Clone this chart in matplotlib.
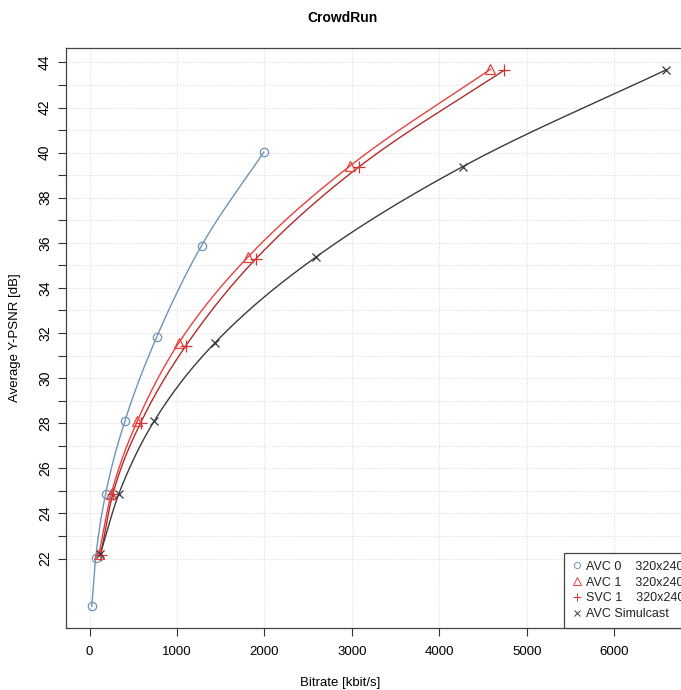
import numpy as np
import matplotlib.pyplot as plt

plt.rcParams['font.family'] = ['Liberation Sans', 'DejaVu Sans']

# values (bitrate kbit/s, Y-PSNR dB)
avc0_rate = [25, 69, 183, 404, 767, 1281, 1991]
avc0_psnr = [19.88, 22.02, 24.86, 28.10, 31.82, 35.88, 40.02]

avc1_rate = [107, 248, 546, 1018, 1808, 2975, 4585]
avc1_psnr = [22.20, 24.88, 28.10, 31.55, 35.36, 39.40, 43.70]

svc1_rate = [126, 267, 584, 1098, 1899, 3078, 4740]
svc1_psnr = [22.15, 24.88, 28.02, 31.42, 35.28, 39.36, 43.65]

sim_rate = [122, 335, 736, 1430, 2586, 4268, 6598]
sim_psnr = [22.20, 24.88, 28.08, 31.55, 35.36, 39.38, 43.68]

labels = ['AVC 0    320x240', 'AVC 1    320x240', 'SVC 1    320x240', 'AVC Simulcast']


def pchip(x, y, n=300):
    # monotone cubic curve through the points, just for drawing
    x = np.asarray(x, float)
    y = np.asarray(y, float)
    h = np.diff(x)
    d = np.diff(y) / h
    m = np.zeros_like(y)
    for k in range(1, len(x) - 1):
        if d[k - 1] * d[k] > 0:
            w1 = 2 * h[k] + h[k - 1]
            w2 = h[k] + 2 * h[k - 1]
            m[k] = (w1 + w2) / (w1 / d[k - 1] + w2 / d[k])
    m[0] = d[0]
    m[-1] = d[-1]
    xs = np.linspace(x[0], x[-1], n)
    idx = np.clip(np.searchsorted(x, xs) - 1, 0, len(x) - 2)
    t = (xs - x[idx]) / h[idx]
    h00 = 2 * t**3 - 3 * t**2 + 1
    h10 = t**3 - 2 * t**2 + t
    h01 = -2 * t**3 + 3 * t**2
    h11 = t**3 - t**2
    ys = h00 * y[idx] + h10 * h[idx] * m[idx] + h01 * y[idx + 1] + h11 * h[idx] * m[idx + 1]
    return xs, ys


fig = plt.figure(figsize=(6.81, 6.90), dpi=100)
ax = fig.add_axes([66 / 681, 1 - 628 / 690, (692 - 66) / 681, (628 - 48) / 690])

# grid
for gx in range(0, 7000, 1000):
    ax.axvline(gx, color='#dddddd', lw=0.8, ls=(0, (1, 1.5)), zorder=0)
for gy in range(22, 45):
    ax.axhline(gy, color='#dddddd', lw=0.8, ls=(0, (1, 1.5)), zorder=0)

series = [
    (avc0_rate, avc0_psnr, '#6f93b8', '#6f93b8', 'o', 6, 'none'),
    (avc1_rate, avc1_psnr, '#e8413c', '#e8413c', '^', 7, 'none'),
    (svc1_rate, svc1_psnr, '#b02a2a', '#d93030', '+', 8, None),
    (sim_rate, sim_psnr, '#3a3a3a', '#3a3a3a', 'x', 6, None),
]

handles = []
for rate, psnr, lc, mc, mk, ms, mfc in series:
    xs, ys = pchip(rate, psnr)
    ax.plot(xs, ys, color=lc, lw=1.0, zorder=2)
    kw = dict(marker=mk, ms=ms, color=mc, ls='none', mew=0.9, zorder=3)
    if mfc:
        kw['mfc'] = mfc
    ax.plot(rate, psnr, **kw)
    hkw = dict(kw)
    hkw['ms'] = ms * 0.75
    hkw['mew'] = 0.7
    handles.append(plt.Line2D([], [], **hkw))

ax.set_xlim(-270, 6890)
ax.set_ylim(18.92, 44.64)
ax.set_xticks(range(0, 7000, 1000))
ax.set_yticks(range(22, 45))
ax.set_yticklabels([str(v) if v % 2 == 0 else '' for v in range(22, 45)],
                   rotation=90, va='center')
ax.tick_params(length=6, width=0.8, color='#333333')
ax.tick_params(axis='x', pad=7, labelsize=9.5)
ax.tick_params(axis='y', pad=4, labelsize=10)
for sp in ax.spines.values():
    sp.set_color('#444444')
    sp.set_linewidth(0.9)

fig.text(340 / 681, 1 - 683 / 690, 'Bitrate [kbit/s]', ha='center', va='center',
         fontsize=9.5)
fig.text(15 / 681, 1 - 338 / 690, 'Average Y-PSNR [dB]', ha='center', va='center',
         rotation=90, fontsize=9.5)
fig.text(343 / 681, 1 - 18 / 690, 'CrowdRun', ha='center', va='center',
         fontsize=10, fontweight='bold')

leg = ax.legend(handles, labels, loc='lower right', borderaxespad=0,
                fontsize=9, fancybox=False, framealpha=1, edgecolor='#444444',
                handlelength=0.8, handletextpad=0.32, borderpad=0.64,
                labelspacing=0.3)
leg.get_frame().set_linewidth(0.9)
for t in leg.get_texts():
    t.set_color('#222222')

fig.savefig('out.png', dpi=100)
